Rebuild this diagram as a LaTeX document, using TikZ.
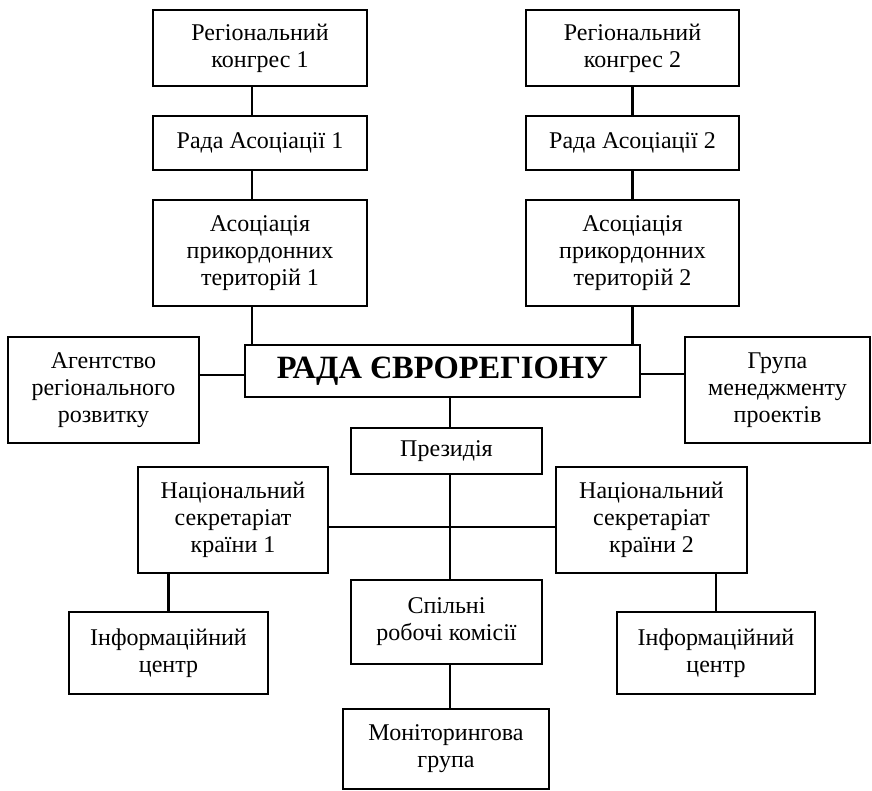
\documentclass[tikz,border=0pt]{standalone}
\usepackage{fontspec}
\setmainfont{Liberation Serif}
\begin{document}
\begin{tikzpicture}[x=1pt,y=-1pt,
  box/.style={draw, line width=2.2pt, inner sep=0pt, align=center,
    font=\fontsize{24}{27}\selectfont, fill=white},
  conn/.style={line width=2.2pt}]
\useasboundingbox (0,0) rectangle (872,791);
\coordinate (spine) at (450,0);
% top left column
\node[box, minimum width=214pt, minimum height=76pt] (rk1) at (260,48) {Регіональний\\конгрес 1};
\node[box, minimum width=214pt, minimum height=54pt] (ra1) at (260,143) {Рада Асоціації 1};
\node[box, minimum width=214pt, minimum height=106pt] (as1) at (260,253) {Асоціація\\прикордонних\\територій 1};
% top right column
\node[box, minimum width=213pt, minimum height=76pt] (rk2) at (632.5,48) {Регіональний\\конгрес 2};
\node[box, minimum width=213pt, minimum height=54pt] (ra2) at (632.5,143) {Рада Асоціації 2};
\node[box, minimum width=213pt, minimum height=106pt] (as2) at (632.5,253) {Асоціація\\прикордонних\\територій 2};
% middle row
\node[box, minimum width=191pt, minimum height=106pt] (ag) at (103.5,390) {Агентство\\регіонального\\розвитку};
\node[box, minimum width=395pt, minimum height=52pt, font=\fontsize{32.5}{36}\selectfont\bfseries] (rada) at (442.5,371) {РАДА ЄВРОРЕГІОНУ};
\node[box, minimum width=185pt, minimum height=106pt] (gr) at (777.5,390) {Група\\менеджменту\\проектів};
% lower part
\node[box, minimum width=191pt, minimum height=46pt] (pr) at (446.5,451) {Президія};
\node[box, minimum width=190pt, minimum height=106pt] (n1) at (233,520) {Національний\\секретаріат\\країни 1};
\node[box, minimum width=191pt, minimum height=106pt] (n2) at (651.5,520) {Національний\\секретаріат\\країни 2};
\node[box, minimum width=191pt, minimum height=84pt] (sp) at (446.5,622) {Спільні\\робочі комісії};
\node[box, minimum width=199pt, minimum height=82pt] (i1) at (168.5,653) {Інформаційний\\центр};
\node[box, minimum width=198pt, minimum height=82pt] (i2) at (716,653) {Інформаційний\\центр};
\node[box, minimum width=206pt, minimum height=80pt] (mo) at (446,749) {Моніторингова\\група};
% connectors
\draw[conn] ([xshift=-8pt]rk1.south) -- ([xshift=-8pt]ra1.north);
\draw[conn] ([xshift=-8pt]ra1.south) -- ([xshift=-8pt]as1.north);
\draw[conn] ([xshift=-8pt]as1.south) -- ([xshift=-8pt]as1.south |- rada.north);
\draw[conn] (rk2.south) -- (ra2.north);
\draw[conn] (ra2.south) -- (as2.north);
\draw[conn] (as2.south) -- (as2.south |- rada.north);
\draw[conn] ([yshift=15pt]ag.east) -- ([yshift=15pt]ag.east -| rada.west);
\draw[conn] ([yshift=16pt]gr.west) -- ([yshift=16pt]gr.west -| rada.east);
\draw[conn] (rada.south -| spine) -- (pr.north -| spine);
\draw[conn] (pr.south -| spine) -- (sp.north -| spine);
\draw[conn] (sp.south -| spine) -- (mo.north -| spine);
\draw[conn] ([yshift=-7pt]n1.east) -- ([yshift=-7pt]n1.east -| n2.west);
\draw[conn] (n1.south -| i1.north) -- (i1.north);
\draw[conn] (n2.south -| i2.north) -- (i2.north);
\end{tikzpicture}
\end{document}
